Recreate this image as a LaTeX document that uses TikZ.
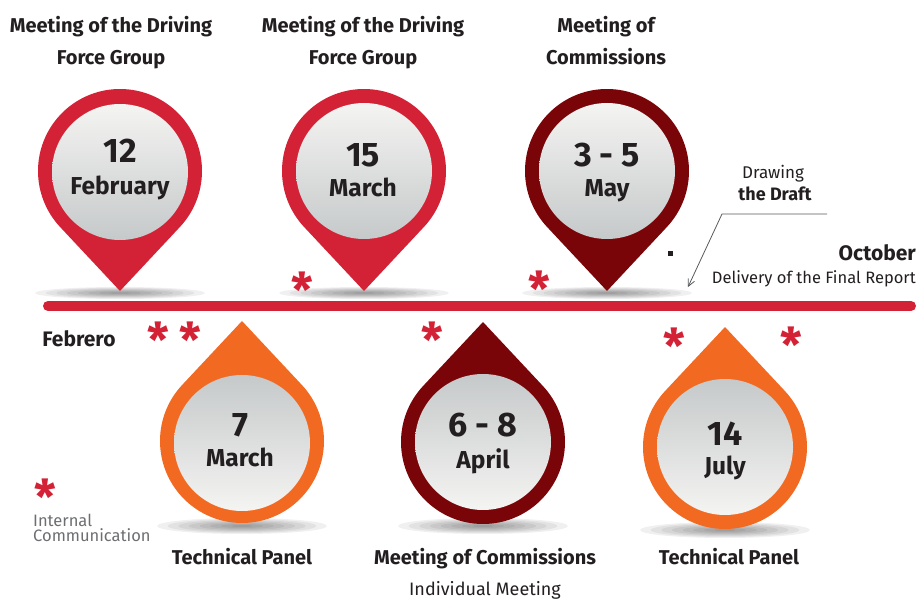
\documentclass[tikz,border=0pt]{standalone}
\usepackage{fontspec}
\setmainfont{Fira Sans}
\usetikzlibrary{arrows.meta}
\definecolor{pinred}{HTML}{D32236}
\definecolor{pindark}{HTML}{7A0509}
\definecolor{pinorange}{HTML}{F26A22}
\definecolor{txt}{HTML}{231F20}
\definecolor{gtxt}{HTML}{6D6E71}
\definecolor{ashade}{HTML}{58595B}
\definecolor{inlight}{HTML}{F4F4F2}
\definecolor{indark}{HTML}{C6C9CA}
\newcommand{\pinshadow}[4]{\foreach \k in {1,...,8}{\fill[black,opacity=0.06] (#1,#2) ellipse ({#3*\k/8} and {#4*\k/8});}}
\newcommand{\toppin}[3]{\begin{scope}[shift={(#1,#2)}]\fill[#3] (0,-120) -- (-43.1:82) arc[start angle=-43.1,end angle=223.1,radius=82] -- cycle;\end{scope}}
\newcommand{\botpin}[3]{\begin{scope}[shift={(#1,#2)}]\fill[#3] (0,120) -- (136.9:82) arc[start angle=136.9,end angle=403.1,radius=82] -- cycle;\end{scope}}
\newcommand{\astglyph}{\raisebox{-0.5em}[0.2em][0.2em]{*}}
\tikzset{
 disc/.style={circle, minimum size=136pt, inner sep=0pt},
 topdisc/.style={disc, top color=inlight, bottom color=indark},
 botdisc/.style={disc, top color=indark, bottom color=inlight},
 dnum/.style={font=\bfseries\fontsize{34}{34}\selectfont, text=txt, inner sep=0pt, anchor=base},
 dmon/.style={font=\bfseries\fontsize{24.5}{24.5}\selectfont, text=txt, inner sep=0pt, anchor=base},
 head/.style={font=\bfseries\fontsize{20}{20}\selectfont, text=txt, inner sep=0pt, anchor=base},
 note/.style={font=\fontsize{16.5}{16.5}\selectfont, text=txt, inner sep=0pt, anchor=base},
 ast/.style={font=\bfseries\fontsize{48}{48}\selectfont, text=pinred, inner sep=0pt},
 pointer/.style={draw=ashade, line width=0.8pt, -{Straight Barb[length=7pt,width=7pt]}},
}
\begin{document}
\begin{tikzpicture}[x=1pt,y=1pt]
\useasboundingbox (0,0) rectangle (919,600);
% shadows
\pinshadow{120}{307}{85}{6}
\pinshadow{364}{307}{85}{6}
\pinshadow{607}{307}{85}{6}
\pinshadow{242}{74}{85}{8}
\pinshadow{483}{74}{85}{8}
\pinshadow{725}{70}{85}{8}
% timeline
\coordinate (tl1) at (48,294);
\coordinate (tl2) at (911,294);
\draw[pinred, line width=10pt, line cap=round] (tl1) -- (tl2);
% pins
\toppin{120}{429}{pinred}
\toppin{364}{429}{pinred}
\toppin{607}{429}{pindark}
\botpin{242}{159}{pinorange}
\botpin{483}{158}{pindark}
\botpin{725}{153}{pinorange}
% discs
\node[topdisc] (d1) at (120,428) {};
\node[topdisc] (d2) at (364,429) {};
\node[topdisc] (d3) at (607,429) {};
\node[botdisc] (d4) at (242,157) {};
\node[botdisc] (d5) at (483,158) {};
\node[botdisc] (d6) at (725,153) {};
% dates
\node[dnum] (n1) at (120,437) {12};
\node[dmon] (m1) at (120,405) {February};
\node[dnum] (n2) at (363,433) {15};
\node[dmon] (m2) at (363,403) {March};
\node[dnum] (n3) at (607,433) {3 - 5};
\node[dmon] (m3) at (607,403) {May};
\node[dnum] (n4) at (240,163) {7};
\node[dmon] (m4) at (240,133) {March};
\node[dnum] (n5) at (483,163) {6 - 8};
\node[dmon] (m5) at (483,131) {April};
\node[dnum] (n6) at (725,154) {14};
\node[dmon] (m6) at (725,125) {July};
% headers
\node[head] (h1a) at (111,567) {Meeting of the Driving};
\node[head] (h1b) at (111,535) {Force Group};
\node[head] (h2a) at (363,567) {Meeting of the Driving};
\node[head] (h2b) at (363,535) {Force Group};
\node[head] (h3a) at (606,567) {Meeting of};
\node[head] (h3b) at (606,535) {Commissions};
% footers
\node[head] (f1) at (242,35) {Technical Panel};
\node[head] (f2) at (485,35) {Meeting of Commissions};
\node[note, font=\fontsize{18}{18}\selectfont] (f2b) at (485,4) {Individual Meeting};
\node[head] (f3) at (729,35) {Technical Panel};
\node[head, font=\bfseries\fontsize{21}{21}\selectfont] (feb) at (79,253) {Febrero};
% right notes
\node[note, font=\fontsize{17}{17}\selectfont] (dr1) at (773,421) {Drawing};
\node[note, font=\bfseries\fontsize{18}{18}\selectfont] (dr2) at (775,399) {the Draft};
\node[head, anchor=base east, font=\bfseries\fontsize{21}{21}\selectfont] (oct) at (916,339) {October};
\node[note, anchor=base east] (del) at (916,316) {Delivery of the Final Report};
\node[fill=txt, minimum size=5pt, inner sep=0pt] (sq) at (670,346) {};
\coordinate (p0) at (827,386);
\coordinate (p1) at (722,386);
\coordinate (p2) at (688,313);
\draw[pointer] (p0) -- (p1) -- (p2);
% asterisks
\node[ast] (s1) at (302,316) {\astglyph};
\node[ast] (s2) at (539,317) {\astglyph};
\node[ast] (s3) at (158,266) {\astglyph};
\node[ast] (s4) at (190,266) {\astglyph};
\node[ast] (s5) at (432,266) {\astglyph};
\node[ast] (s6) at (674,260) {\astglyph};
\node[ast] (s7) at (791,261) {\astglyph};
\node[ast] (s8) at (45,109) {\astglyph};
\node[text=gtxt, anchor=north west, align=left, inner sep=0pt, font=\fontsize{16.5}{15}\selectfont] (leg) at (33,86) {Internal\\Communication};
\end{tikzpicture}
\end{document}
